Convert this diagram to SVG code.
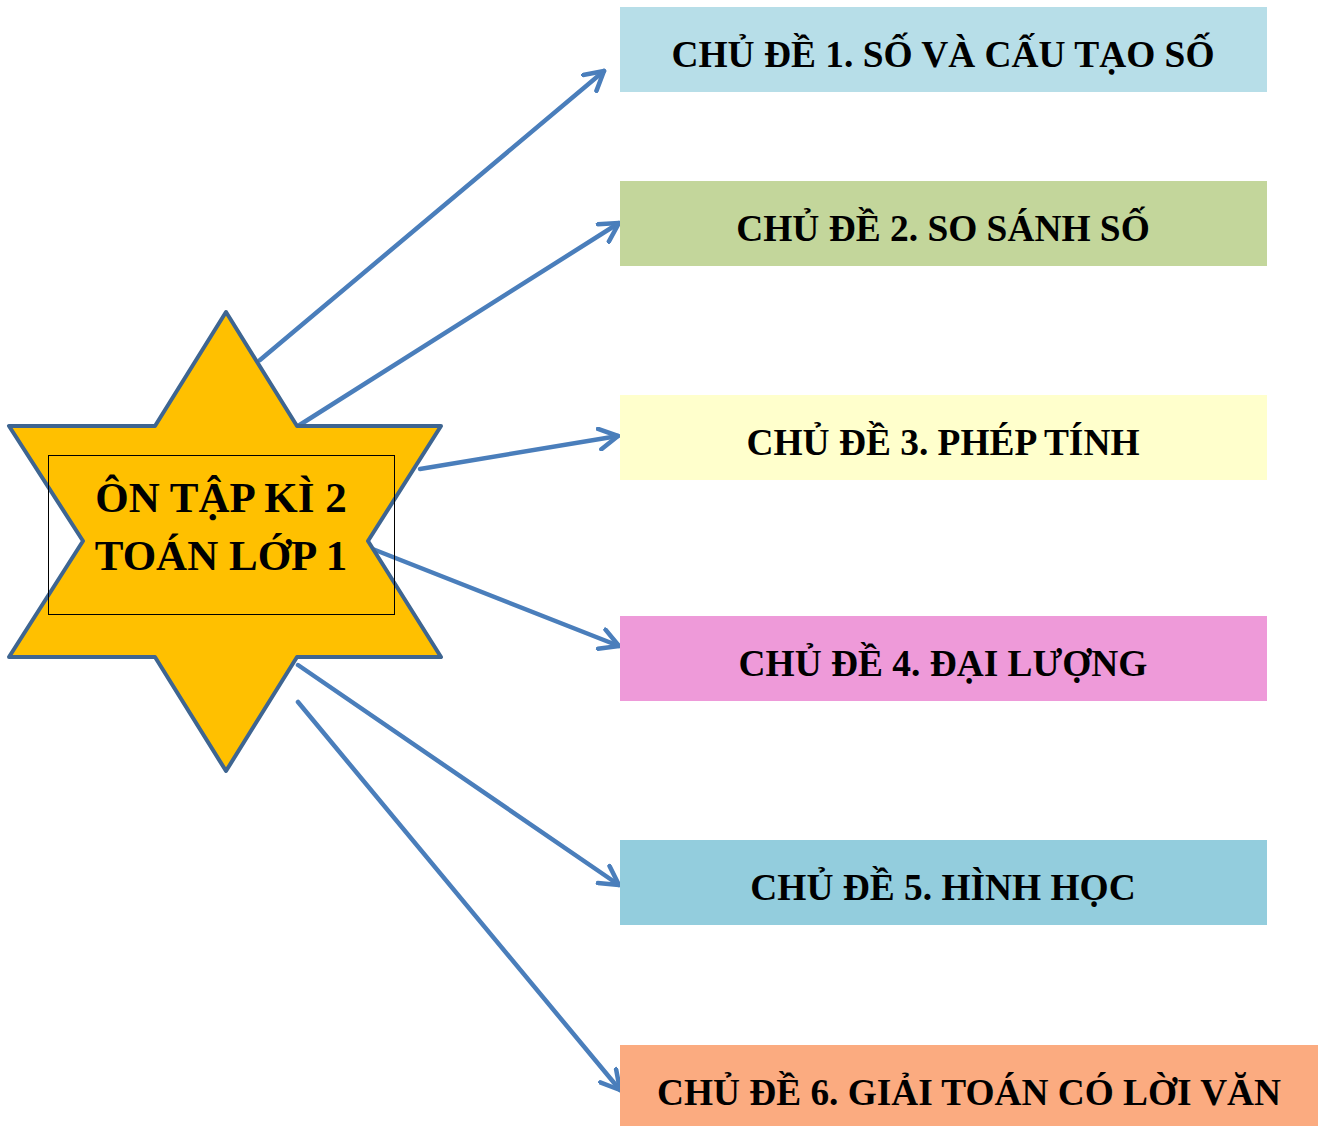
<svg xmlns="http://www.w3.org/2000/svg" width="1318" height="1126" viewBox="0 0 1318 1126">
<style>
.t{font-family:"Liberation Serif","Times New Roman",serif;font-weight:bold;font-size:37.4px;fill:#000;text-anchor:middle}
.c{font-family:"Liberation Serif","Times New Roman",serif;font-weight:bold;font-size:43px;fill:#000;text-anchor:middle}
.ln{stroke:#4A7EBB;stroke-width:4.5;fill:none;stroke-linecap:round}
</style>
<defs>
<marker id="ah" viewBox="0 0 12 12" refX="10" refY="6" markerWidth="5.5" markerHeight="5.5" markerUnits="strokeWidth" orient="auto">
<path d="M1,1 L10,6 L1,11" fill="none" stroke="#4A7EBB" stroke-width="2.2" stroke-linecap="round" stroke-linejoin="round"/>
</marker>
</defs>
<rect width="1318" height="1126" fill="#fff"/>
<g id="connectors">
<line class="ln" x1="260" y1="360" x2="604" y2="71" marker-end="url(#ah)"/>
<line class="ln" x1="298" y1="426" x2="619" y2="223" marker-end="url(#ah)"/>
<line class="ln" x1="420" y1="469" x2="618" y2="436" marker-end="url(#ah)"/>
<line class="ln" x1="370" y1="548" x2="619" y2="646" marker-end="url(#ah)"/>
<line class="ln" x1="298" y1="665" x2="619" y2="885" marker-end="url(#ah)"/>
<line class="ln" x1="298" y1="702" x2="620" y2="1090" marker-end="url(#ah)"/>
</g>
<g id="center">
<polygon points="226,312 297,426 441,426 368,541 441,657 297,657 226,771 155,657 9,657 83,541 9,426 155,426" fill="#FFC000" stroke="#3E6591" stroke-width="4" stroke-linejoin="round"/>
<rect x="48.5" y="455.5" width="346" height="159" fill="none" stroke="#000" stroke-width="1"/>
<text class="c" x="221" y="512">ÔN TẬP KÌ 2</text>
<text class="c" x="221" y="570">TOÁN LỚP 1</text>
</g>
<g id="n1"><rect x="620" y="7" width="647" height="85" fill="#B7DEE8"/><text class="t" x="943" y="67">CHỦ ĐỀ 1. SỐ VÀ CẤU TẠO SỐ</text></g>
<g id="n2"><rect x="620" y="181" width="647" height="85" fill="#C3D69B"/><text class="t" x="943" y="241">CHỦ ĐỀ 2. SO SÁNH SỐ</text></g>
<g id="n3"><rect x="620" y="395" width="647" height="85" fill="#FFFFCC"/><text class="t" x="943" y="455">CHỦ ĐỀ 3. PHÉP TÍNH</text></g>
<g id="n4"><rect x="620" y="616" width="647" height="85" fill="#EE9AD9"/><text class="t" x="943" y="676">CHỦ ĐỀ 4. ĐẠI LƯỢNG</text></g>
<g id="n5"><rect x="620" y="840" width="647" height="85" fill="#93CDDD"/><text class="t" x="943" y="900">CHỦ ĐỀ 5. HÌNH HỌC</text></g>
<g id="n6"><rect x="620" y="1045" width="698" height="81" fill="#FBAB80"/><text class="t" x="969" y="1105" textLength="624" lengthAdjust="spacingAndGlyphs">CHỦ ĐỀ 6. GIẢI TOÁN CÓ LỜI VĂN</text></g>
</svg>
